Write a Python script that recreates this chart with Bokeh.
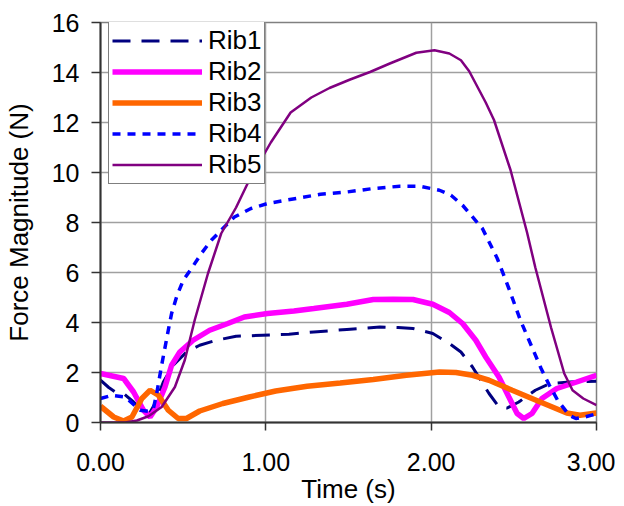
from bokeh.plotting import figure
from bokeh.models import Range1d, FixedTicker, NumeralTickFormatter, Legend, LegendItem
from bokeh.embed import file_html
from bokeh.resources import INLINE

# ---- data ----
rib1_t = [0, 0.05, 0.09, 0.14, 0.20, 0.26, 0.29, 0.33, 0.38, 0.44, 0.52, 0.60, 0.70, 0.82, 0.98,
          1.14, 1.29, 1.49, 1.69, 1.80, 1.89, 2.01, 2.11, 2.18, 2.25, 2.35, 2.41, 2.46, 2.53,
          2.63, 2.72, 2.84, 3.0]
rib1_v = [1.69, 1.40, 1.22, 1.16, 0.82, 0.42, 0.30, 0.76, 1.62, 2.29, 2.82, 3.09, 3.29, 3.45, 3.49,
          3.53, 3.62, 3.72, 3.82, 3.80, 3.76, 3.56, 3.16, 2.82, 2.22, 1.16, 0.62, 0.58, 0.82,
          1.29, 1.56, 1.62, 1.65]

rib2_t = [0, 0.14, 0.20, 0.26, 0.30, 0.34, 0.39, 0.43, 0.48, 0.56, 0.66, 0.77, 0.87, 1.01, 1.17,
          1.29, 1.49, 1.65, 1.77, 1.89, 2.01, 2.11, 2.19, 2.27, 2.33, 2.41, 2.47, 2.52, 2.56,
          2.61, 2.67, 2.76, 2.88, 3.0]
rib2_v = [1.96, 1.76, 1.22, 0.49, 0.22, 0.62, 1.42, 2.29, 2.82, 3.29, 3.69, 3.96, 4.22, 4.36, 4.46,
          4.56, 4.73, 4.92, 4.93, 4.92, 4.73, 4.40, 3.96, 3.29, 2.62, 1.82, 1.02, 0.36, 0.16,
          0.36, 0.96, 1.36, 1.62, 1.89]

rib3_t = [0, 0.08, 0.14, 0.19, 0.25, 0.30, 0.35, 0.41, 0.47, 0.52, 0.60, 0.74, 0.90, 1.06, 1.25,
          1.45, 1.65, 1.85, 2.05, 2.15, 2.25, 2.35, 2.49, 2.66, 2.82, 2.90, 3.0]
rib3_v = [0.65, 0.22, 0.06, 0.22, 0.96, 1.29, 1.09, 0.49, 0.16, 0.16, 0.46, 0.76, 1.02, 1.26, 1.45,
          1.58, 1.72, 1.89, 2.02, 2.00, 1.89, 1.69, 1.29, 0.82, 0.38, 0.29, 0.38]

rib4_t = [0, 0.07, 0.15, 0.24, 0.29, 0.32, 0.34, 0.37, 0.41, 0.43, 0.46, 0.50, 0.55, 0.61, 0.67,
          0.74, 0.81, 0.91, 1.01, 1.12, 1.33, 1.49, 1.65, 1.81, 1.93, 2.05, 2.12, 2.19, 2.31,
          2.40, 2.47, 2.54, 2.60, 2.665, 2.715, 2.765, 2.835, 2.875, 2.93, 3.0]
rib4_v = [0.96, 1.09, 1.02, 0.49, 0.45, 0.56, 1.16, 2.30, 3.69, 4.36, 5.02, 5.69, 6.16, 6.76, 7.29,
          7.76, 8.22, 8.56, 8.76, 8.89, 9.13, 9.22, 9.36, 9.45, 9.45, 9.29, 9.09, 8.69, 7.76,
          6.56, 5.36, 4.09, 3.16, 2.16, 1.49, 0.89, 0.29, 0.16, 0.22, 0.35]

rib5_t = [0, 0.15, 0.22, 0.29, 0.37, 0.45, 0.51, 0.57, 0.65, 0.73, 0.82, 0.90, 1.03, 1.15, 1.275,
          1.385, 1.51, 1.63, 1.75, 1.91, 2.02, 2.11, 2.18, 2.23, 2.33, 2.38, 2.48, 2.58, 2.63,
          2.725, 2.805, 2.855, 2.92, 3.0]
rib5_v = [0, 0, 0.08, 0.25, 0.62, 1.42, 2.5, 4.1, 5.96, 7.56, 8.6, 9.7, 11.2, 12.4, 13.0,
          13.38, 13.72, 14.02, 14.36, 14.79, 14.89, 14.76, 14.49, 14.05, 12.8, 12.1, 10.1, 7.6, 6.2,
          3.8, 1.96, 1.29, 0.96, 0.69]

x_ticks = [0, 1, 2, 3]
y_ticks = [0, 2, 4, 6, 8, 10, 12, 14, 16]
series_names = ["Rib1", "Rib2", "Rib3", "Rib4", "Rib5"]

FONT = "Liberation Sans"

p = figure(frame_width=496, frame_height=400, output_backend="svg", toolbar_location=None,
           x_range=Range1d(0, 3), y_range=Range1d(0, 16),
           min_border_left=93, min_border_right=19, min_border_top=22, min_border_bottom=60,
           x_axis_label="Time (s)", y_axis_label="Force Magnitude (N)")
p.background_fill_color = "white"
p.border_fill_color = "white"
p.outline_line_color = "#808080"
p.outline_line_width = 1.5

# grid
p.xgrid.ticker = FixedTicker(ticks=x_ticks)
p.ygrid.ticker = FixedTicker(ticks=y_ticks)
for g in (p.xgrid, p.ygrid):
    g.grid_line_color = "#A0A0A0"
    g.grid_line_width = 1.5

# axes
p.xaxis.ticker = FixedTicker(ticks=x_ticks)
p.yaxis.ticker = FixedTicker(ticks=y_ticks)
p.xaxis.formatter = NumeralTickFormatter(format="0.00")
for ax in (p.xaxis[0], p.yaxis[0]):
    ax.axis_line_color = "#333333"
    ax.axis_line_width = 2
    ax.major_tick_line_color = "#333333"
    ax.major_tick_line_width = 1.5
    ax.major_tick_in = 0
    ax.minor_tick_line_color = None
    ax.major_label_text_font = FONT
    ax.major_label_text_font_size = "25px"
    ax.major_label_text_color = "black"
    ax.axis_label_text_font = FONT
    ax.axis_label_text_font_size = "26px"
    ax.axis_label_text_font_style = "normal"
    ax.axis_label_text_color = "black"
p.xaxis.major_tick_out = 8
p.yaxis.major_tick_out = 9
p.xaxis.major_label_standoff = 22
p.yaxis.major_label_standoff = 12
p.xaxis.axis_label_standoff = 0
p.yaxis.axis_label_standoff = 15

r1 = p.line(rib1_t, rib1_v, line_color="#000080", line_width=3, line_dash="18 11")
r2 = p.line(rib2_t, rib2_v, line_color="#FF00FF", line_width=5.5)
r3 = p.line(rib3_t, rib3_v, line_color="#FF6600", line_width=5.5)
r4 = p.line(rib4_t, rib4_v, line_color="#0000FF", line_width=3.5, line_dash="8 7")
r5 = p.line(rib5_t, rib5_v, line_color="#800080", line_width=2.5)

legend = Legend(items=[LegendItem(label=n, renderers=[r]) for n, r in
                       zip(series_names, [r1, r2, r3, r4, r5])],
                location=(8, 238))
legend.label_text_font = FONT
legend.label_text_font_size = "26px"
legend.label_text_color = "black"
legend.glyph_width = 90
legend.glyph_height = 31
legend.label_height = 31
legend.spacing = 0
legend.padding = 3
legend.margin = 0
legend.label_standoff = 6
legend.border_line_color = "black"
legend.border_line_width = 1.5
legend.background_fill_color = "white"
legend.background_fill_alpha = 1
p.add_layout(legend, "center")

open("out.html", "w").write(file_html(p, INLINE))
